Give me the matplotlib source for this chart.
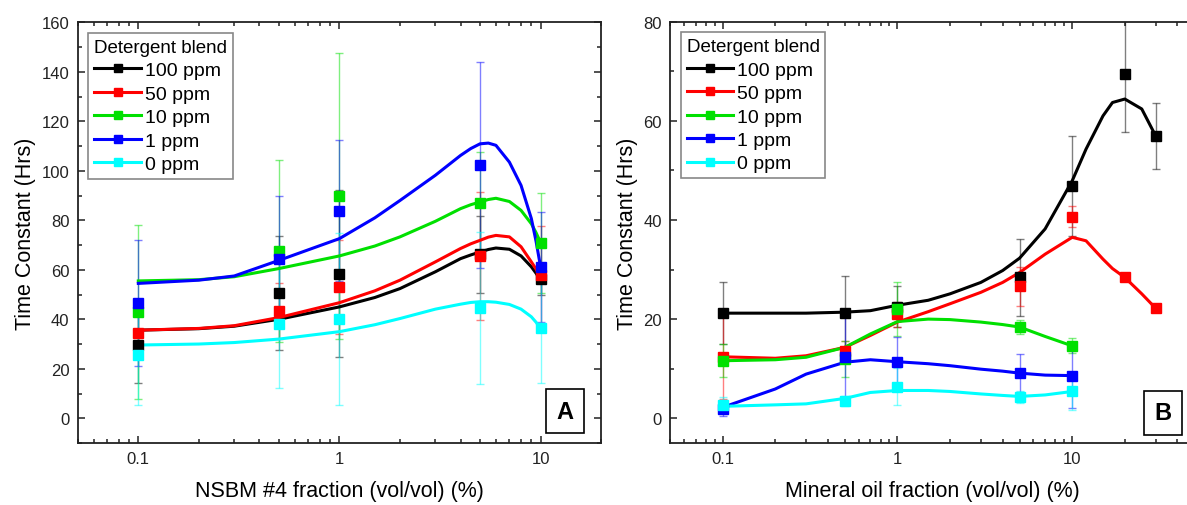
import matplotlib
matplotlib.use('Agg')
import matplotlib.pyplot as plt
from matplotlib.lines import Line2D
from matplotlib.ticker import LogLocator, MultipleLocator, FuncFormatter, NullFormatter

plt.rcParams['font.family'] = ['Liberation Sans', 'DejaVu Sans']

# series names and colours
series = ['100 ppm', '50 ppm', '10 ppm', '1 ppm', '0 ppm']
colors = ['#000000', '#ff0000', '#00e000', '#0000ff', '#00ffff']

# ---- panel A : NSBM #4 fraction ----
a_x = [0.1, 0.5, 1, 5, 10]
a_y = {
    '100 ppm': [29.6, 50.7, 58.5, 66.2, 56.1],
    '50 ppm':  [34.6, 43.3, 53.0, 65.6, 57.8],
    '10 ppm':  [43.0, 67.6, 90.0, 87.1, 71.0],
    '1 ppm':   [46.7, 64.5, 83.9, 102.5, 61.2],
    '0 ppm':   [25.5, 37.9, 40.1, 44.4, 36.3],
}
a_err = {
    '100 ppm': [15.2, 23.0, 33.6, 15.7, 6.4],
    '50 ppm':  [7.0, 11.4, 19.0, 26.0, 20.0],
    '10 ppm':  [35.3, 36.6, 57.8, 20.7, 20.2],
    '1 ppm':   [25.5, 25.2, 28.4, 41.6, 22.2],
    '0 ppm':   [20.0, 25.8, 34.7, 30.7, 21.9],
}
# fitted curves
a_fit_x = [0.1, 0.2, 0.3, 0.5, 1, 1.5, 2, 3, 4, 4.5, 5, 5.5, 6, 7, 8, 9, 9.5, 10]
a_fit = {
    '100 ppm': [35.6, 36.2, 37.2, 40.0, 45.0, 48.8, 52.4, 59.2, 64.5, 66.0, 67.2, 68.2, 68.8,
                68.3, 65.6, 61.2, 58.6, 55.8],
    '50 ppm':  [35.6, 36.3, 37.4, 40.7, 46.7, 51.5, 55.8, 63.2, 68.6, 70.5, 71.9, 73.2, 73.9,
                73.3, 69.3, 63.2, 60.3, 57.2],
    '10 ppm':  [55.5, 56.0, 57.2, 60.5, 65.6, 69.6, 73.3, 79.6, 84.7, 86.3, 87.4, 88.4, 88.9,
                87.6, 84.0, 78.6, 75.0, 71.0],
    '1 ppm':   [54.5, 55.8, 57.5, 63.8, 72.6, 81.0, 88.0, 98.2, 106.2, 109.0, 110.9, 111.2, 110.3,
                103.5, 94.1, 80.7, 71.5, 61.2],
    '0 ppm':   [29.6, 30.0, 30.6, 32.0, 35.0, 37.8, 40.3, 44.1, 46.1, 46.8, 47.1, 47.1, 46.9,
                46.0, 44.1, 41.0, 38.8, 36.3],
}

# ---- panel B : mineral oil fraction ----
b_x = {
    '100 ppm': [0.1, 0.5, 1, 5, 10, 20, 30],
    '50 ppm':  [0.1, 0.5, 1, 5, 10, 20, 30],
    '10 ppm':  [0.1, 0.5, 1, 5, 10],
    '1 ppm':   [0.1, 0.5, 1, 5, 10],
    '0 ppm':   [0.1, 0.5, 1, 5, 10],
}
b_y = {
    '100 ppm': [21.2, 21.2, 22.5, 28.4, 46.9, 69.5, 57.0],
    '50 ppm':  [12.4, 13.5, 21.0, 26.6, 40.7, 28.4, 22.2],
    '10 ppm':  [11.6, 12.0, 22.0, 18.4, 14.6],
    '1 ppm':   [1.9, 12.3, 11.4, 9.1, 8.6],
    '0 ppm':   [2.7, 3.4, 6.4, 4.2, 5.4],
}
b_err = {
    '100 ppm': [6.2, 7.4, 4.1, 7.8, 10.1, 11.8, 6.7],
    '50 ppm':  [8.5, 2.0, 2.5, 4.0, 2.1, 0, 0],
    '10 ppm':  [3.3, 3.6, 5.4, 1.5, 1.5],
    '1 ppm':   [1.5, 8.5, 4.9, 3.9, 6.5],
    '0 ppm':   [1.5, 1.0, 3.7, 1.2, 3.7],
}
b_fit_x = [0.1, 0.2, 0.3, 0.5, 0.7, 1, 1.5, 2, 3, 4, 5, 7, 10, 12, 15, 17, 20, 25, 30]
b_fit = {
    '100 ppm': [21.2, 21.2, 21.2, 21.4, 21.7, 22.8, 23.8, 25.1, 27.4, 29.8, 32.3, 38.2, 47.9,
                54.3, 61.0, 63.7, 64.4, 62.4, 57.0],
    '50 ppm':  [12.4, 12.1, 12.6, 14.3, 16.7, 19.4, 21.5, 23.1, 25.4, 27.4, 29.4, 33.1, 36.5,
                35.8, 32.1, 30.2, 28.4, 25.1, 22.2],
    '10 ppm':  [11.6, 11.8, 12.3, 14.3, 17.0, 19.5, 20.0, 19.9, 19.4, 18.9, 18.4, 16.5, 14.6],
    '1 ppm':   [2.2, 5.9, 8.9, 11.3, 11.8, 11.4, 11.0, 10.6, 9.9, 9.5, 9.1, 8.7, 8.6],
    '0 ppm':   [2.4, 2.7, 2.9, 4.0, 5.2, 5.6, 5.6, 5.4, 4.9, 4.6, 4.4, 4.7, 5.4],
}


def style_axes(ax, ylim, ymajor, xlim):
    ax.set_xscale('log')
    ax.set_xlim(*xlim)
    ax.set_ylim(*ylim)
    ax.yaxis.set_major_locator(MultipleLocator(ymajor))
    ax.yaxis.set_minor_locator(MultipleLocator(ymajor / 2))
    ax.xaxis.set_major_locator(LogLocator(base=10, numticks=10))
    ax.xaxis.set_minor_locator(LogLocator(base=10, subs=range(2, 10), numticks=10))
    ax.xaxis.set_major_formatter(FuncFormatter(lambda v, p: '%g' % v))
    ax.xaxis.set_minor_formatter(NullFormatter())
    ax.tick_params(which='both', direction='in', top=True, right=True,
                   labelsize=12, width=1.1, colors='#222222')
    ax.tick_params(which='major', length=5, pad=6)
    ax.tick_params(which='minor', length=2.8)
    for s in ax.spines.values():
        s.set_linewidth(1.3)
        s.set_color('#222222')
    ax.set_ylabel('Time Constant (Hrs)', fontsize=15.5, labelpad=4)


def draw(ax, xs, ys, errs, fx, fy):
    for name, c in zip(series, colors):
        x = xs[name] if isinstance(xs, dict) else xs
        ax.errorbar(x, ys[name], yerr=errs[name], fmt='none', ecolor=c,
                    elinewidth=1, capsize=3, capthick=1, alpha=0.5, zorder=2)
        n = len(fy[name])
        ax.plot(fx[:n], fy[name], color=c, lw=2.2, zorder=3, solid_joinstyle='round')
        ax.plot(x, ys[name], 's', color=c, ms=6.5, zorder=4)


def add_legend(ax):
    handles = [Line2D([], [], color=c, lw=2.2, marker='s', ms=6) for c in colors]
    leg = ax.legend(handles, series, title='Detergent blend', loc='upper left',
                    fontsize=14, title_fontsize=13.5, handlelength=2.4,
                    handletextpad=0.2, labelspacing=0.3, borderpad=0.3,
                    borderaxespad=0.55, fancybox=False, framealpha=1,
                    edgecolor='#888888', alignment='left')
    leg.get_frame().set_linewidth(1.2)


def panel_tag(ax, letter, x, y):
    ax.text(x, y, letter, transform=ax.transAxes, ha='center', va='center',
            fontsize=17, fontweight='bold',
            bbox=dict(boxstyle='square,pad=0.45', fc='white', ec='black', lw=1.2))


fig = plt.figure(figsize=(11.87, 5.06), dpi=100)
axA = fig.add_axes([0.0655, 0.1225, 0.4409, 0.8314])
axB = fig.add_axes([0.5645, 0.1225, 0.4417, 0.8326])

style_axes(axA, (-10, 160), 20, (0.05, 20))
draw(axA, a_x, a_y, a_err, a_fit_x, a_fit)
axA.set_xlabel('NSBM #4 fraction (vol/vol) (%)', fontsize=15.5, labelpad=10)
add_legend(axA)
panel_tag(axA, 'A', 0.931, 0.076)

style_axes(axB, (-5, 80), 20, (0.05, 50))
draw(axB, b_x, b_y, b_err, b_fit_x, b_fit)
axB.set_xlabel('Mineral oil fraction (vol/vol) (%)', fontsize=15.5, labelpad=10)
add_legend(axB)
panel_tag(axB, 'B', 0.940, 0.072)

fig.savefig('out.png', dpi=100)
